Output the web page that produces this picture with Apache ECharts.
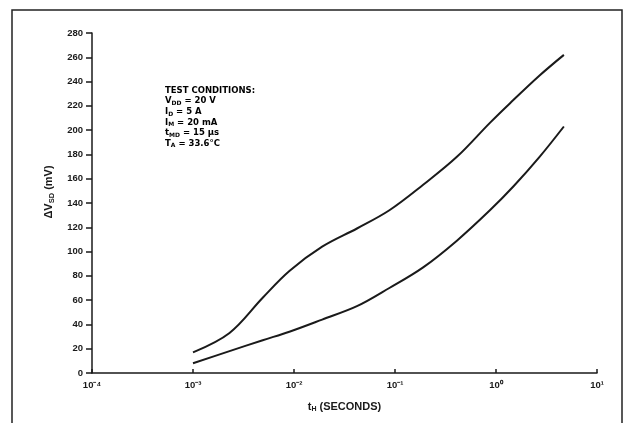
<!DOCTYPE html>
<html>
<head>
<meta charset="utf-8">
<script src="https://cdn.jsdelivr.net/npm/echarts@6/dist/echarts.min.js"></script>
<style>
  html, body { margin: 0; padding: 0; background: #fff; }
  #chart { width: 634px; height: 423px; }
</style>
</head>
<body>
<div id="chart"></div>
<script>
// heating time t_H (s) vs delta V_SD (mV)
const upperT = [0.001, 0.0023, 0.0049, 0.009, 0.019, 0.042, 0.088, 0.19, 0.41, 0.87, 1.37, 2.7, 4.7];
const upperV = [17, 33, 62, 84, 104, 119, 134, 155, 178, 206, 222, 245, 262];
const lowerT = [0.001, 0.0023, 0.0049, 0.009, 0.019, 0.042, 0.088, 0.19, 0.41, 0.87, 1.5, 2.7, 4.7];
const lowerV = [8, 18, 27, 34, 44, 55, 70, 87, 109, 134, 154, 178, 203];
const xTickLabels = ['10⁻⁴', '10⁻³', '10⁻²', '10⁻¹', '10⁰', '10¹'];
const conditions = [
  ['V', 'DD', ' = 20 V'],
  ['I', 'D', ' = 5 A'],
  ['I', 'M', ' = 20 mA'],
  ['t', 'MD', ' = 15 µs'],
  ['T', 'A', ' = 33.6°C']
];

const font = 'Liberation Sans';
const boxFont = 'DejaVu Sans';
const ink = '#1a1a1a';

const chart = echarts.init(document.getElementById('chart'));

const pairs = (ts, vs) => ts.map((t, i) => [t, vs[i]]);

const condText = ['{h|TEST CONDITIONS:}']
  .concat(conditions.map(c => `{a|${c[0]}}{s|${c[1]}}{a|${c[2]}}`))
  .join('\n');

chart.setOption({
  animation: false,
  backgroundColor: '#fff',
  grid: { left: 92, right: 37, top: 33, bottom: 50 },
  xAxis: {
    type: 'log',
    logBase: 10,
    min: 1e-4,
    max: 10,
    interval: 1,
    name: '{a|t}{s|H}{a| (SECONDS)}',
    nameLocation: 'middle',
    nameGap: 27,
    nameTextStyle: {
      rich: {
        a: { fontFamily: font, fontWeight: 'bold', fontSize: 11, color: ink },
        s: { fontFamily: font, fontWeight: 'bold', fontSize: 7, color: ink, verticalAlign: 'bottom', padding: [6, 0, 0, 0] }
      }
    },
    axisLine: { lineStyle: { color: ink, width: 1.5 } },
    axisTick: { inside: true, length: 4, lineStyle: { color: ink, width: 1.5 } },
    minorTick: { show: false },
    splitLine: { show: false },
    axisLabel: {
      fontFamily: font, fontWeight: 'bold', fontSize: 9.5, color: ink, margin: 7,
      formatter: (v) => xTickLabels[Math.round(Math.log10(v)) + 4]
    }
  },
  yAxis: {
    type: 'value',
    min: 0,
    max: 280,
    interval: 20,
    name: '{a|ΔV}{s|SD}{a| (mV)}',
    nameLocation: 'middle',
    nameGap: 32,
    nameTextStyle: {
      padding: [0, 0, 0, 22],
      rich: {
        a: { fontFamily: font, fontWeight: 'bold', fontSize: 11, color: ink },
        s: { fontFamily: font, fontWeight: 'bold', fontSize: 7.5, color: ink, verticalAlign: 'bottom', padding: [6, 0, 0, 0] }
      }
    },
    axisLine: { show: true, lineStyle: { color: ink, width: 1.5 } },
    axisTick: { show: true, length: 6, lineStyle: { color: ink, width: 1.5 } },
    splitLine: { show: false },
    axisLabel: { fontFamily: font, fontWeight: 'bold', fontSize: 9.5, color: ink, margin: 9 }
  },
  graphic: [
    {
      type: 'rect',
      shape: { x: 12, y: 10, width: 610, height: 420 },
      style: { fill: 'none', stroke: '#222', lineWidth: 1.5 },
      silent: true
    },
    {
      type: 'text',
      left: 165,
      top: 86,
      style: {
        text: condText,
        rich: {
          h: { fontFamily: boxFont, fontWeight: 'bold', fontSize: 8.5, color: ink, lineHeight: 10.6 },
          a: { fontFamily: boxFont, fontWeight: 'bold', fontSize: 8.5, color: ink, lineHeight: 10.6 },
          s: { fontFamily: boxFont, fontWeight: 'bold', fontSize: 6, color: ink, verticalAlign: 'bottom', lineHeight: 10.6 }
        }
      }
    }
  ],
  series: [
    {
      type: 'line',
      data: pairs(upperT, upperV),
      smooth: 0.35,
      symbol: 'none',
      lineStyle: { color: ink, width: 2 }
    },
    {
      type: 'line',
      data: pairs(lowerT, lowerV),
      smooth: 0.35,
      symbol: 'none',
      lineStyle: { color: ink, width: 2 }
    }
  ]
});
</script>
</body>
</html>
